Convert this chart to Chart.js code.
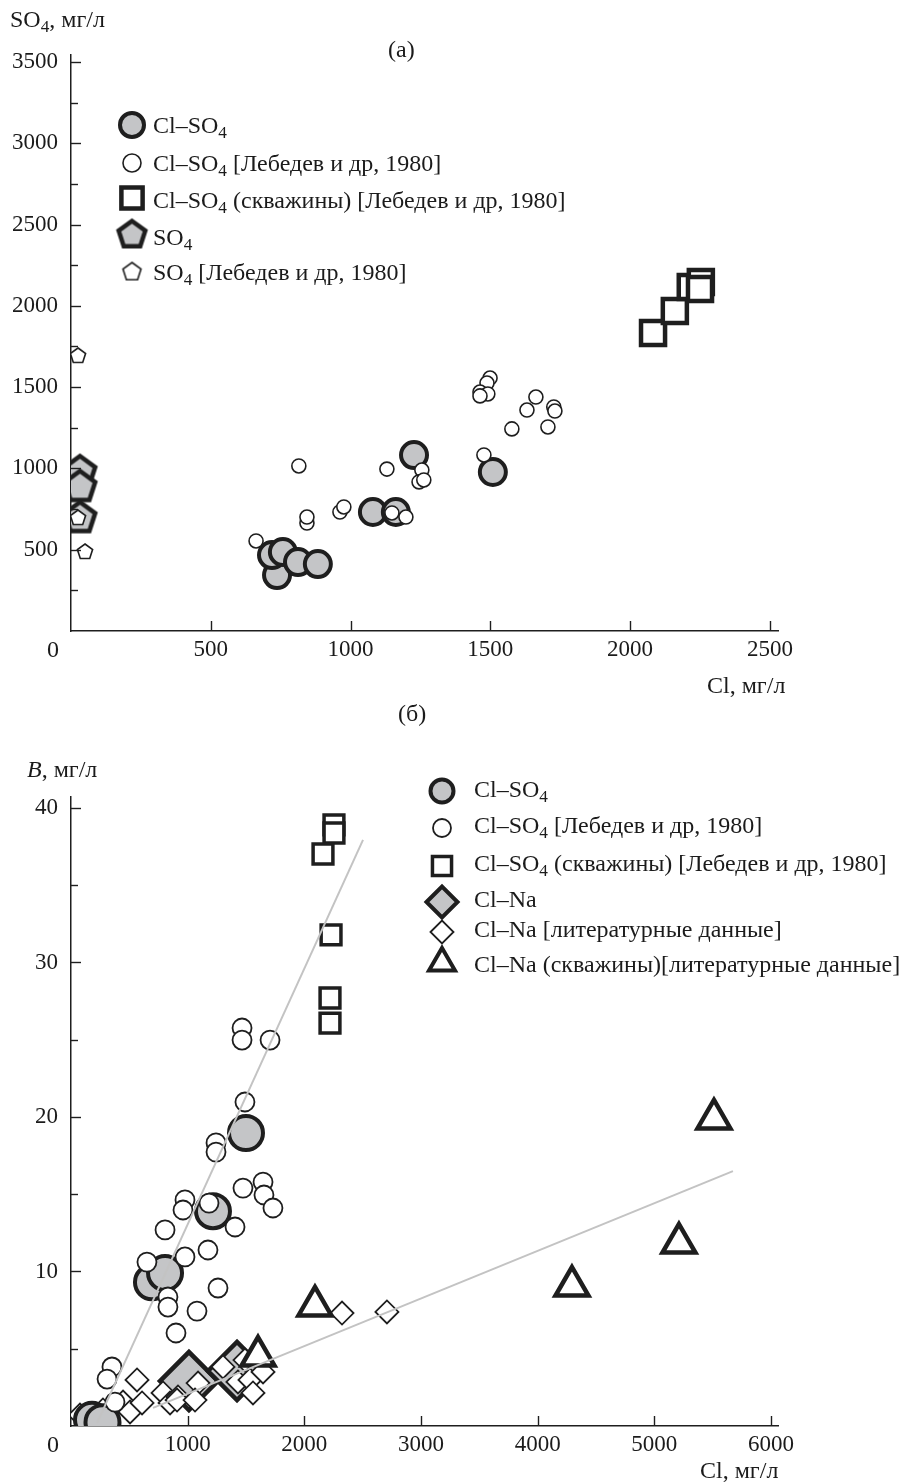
<!DOCTYPE html>
<html lang="ru">
<head>
<meta charset="utf-8">
<title>SO4 и B в зависимости от Cl</title>
<script src="https://cdn.jsdelivr.net/npm/chart.js@4.4.1/dist/chart.umd.min.js"></script>
<style>
html,body{margin:0;padding:0;background:#fff;}
body{position:relative;width:902px;height:1482px;overflow:hidden;font-family:"Liberation Serif","Times New Roman",serif;color:#1b1b1b;}
canvas{position:absolute;left:0;}
#ca{top:0;}
#cb{top:700px;}
.t{position:absolute;font-size:24px;line-height:24px;white-space:nowrap;}
.t sub{font-size:0.72em;line-height:0;vertical-align:-0.28em;}
</style>
</head>
<body>
<canvas id="ca" width="902" height="700"></canvas>
<canvas id="cb" width="902" height="782"></canvas>
<div id="labels"></div>
<script>
// ---------- Panel (а): SO4 vs Cl ----------
const A_clso4_x = [737, 719, 758, 812, 883, 1080, 1162, 1227, 1509];
const A_clso4_y = [344, 467, 486, 424, 412, 732, 732, 1082, 978];

const A_leb_x = [662, 815, 844, 844, 962, 976, 1130, 1148, 1198, 1255, 1245, 1262, 1499, 1488, 1463, 1491, 1463, 1663, 1631, 1727, 1731, 1577, 1706, 1477];
const A_leb_y = [554, 1015, 664, 701, 732, 763, 996, 726, 701, 990, 917, 929, 1556, 1525, 1470, 1458, 1446, 1439, 1359, 1378, 1353, 1243, 1255, 1083];

const A_well_x = [2082, 2160, 2217, 2253, 2250];
const A_well_y = [1833, 1968, 2116, 2147, 2104];

const A_so4_x = [32, 32, 32];
const A_so4_y = [978, 886, 695];

const A_so4leb_x = [25, 25, 50];
const A_so4leb_y = [1692, 695, 486];

const A_xTickValues = [500, 1000, 1500, 2000, 2500];
const A_yTickValues = [250, 500, 750, 1000, 1250, 1500, 1750, 2000, 2250, 2500, 2750, 3000, 3250, 3500];
const A_yTickLabels = [500, 1000, 1500, 2000, 2500, 3000, 3500];

// ---------- Panel (б): B vs Cl ----------
const B_clso4_x = [1500, 1217, 694, 806, 180, 270];
const B_clso4_y = [18.96, 13.9, 9.3, 9.9, 0.4, 0.25];

const B_leb_x = [1466, 1466, 1706, 1491, 1243, 1243, 1474, 1646, 1654, 1731, 977, 960, 1183, 1406, 806, 977, 1174, 651, 1260, 831, 831, 1080, 900, 351, 309, 377];
const B_leb_y = [25.76, 24.98, 24.98, 20.97, 18.32, 17.73, 15.40, 15.79, 14.95, 14.11, 14.63, 13.98, 14.43, 12.88, 12.69, 10.94, 11.39, 10.61, 8.93, 8.35, 7.70, 7.44, 6.02, 3.82, 3.04, 1.55];

const B_well_x = [2254, 2254, 2160, 2229, 2220, 2220];
const B_well_y = [38.90, 38.38, 37.02, 31.78, 27.70, 26.08];

const B_clna_x = [1011, 1423];
const B_clna_y = [2.91, 3.56];

const B_clnaLit_x = [2708, 2323, 77, 274, 446, 506, 566, 609, 789, 849, 917, 909, 1089, 1063, 1303, 1431, 1491, 1534, 1646, 1560];
const B_clnaLit_y = [7.38, 7.31, 0.71, 1.04, 1.55, 0.91, 2.98, 1.49, 2.14, 1.49, 1.88, 1.68, 2.78, 1.68, 3.82, 2.85, 4.27, 2.98, 3.50, 2.14];

const B_clnaWell_x = [5511, 5211, 4294, 2091, 1603];
const B_clnaWell_y = [19.87, 11.84, 9.06, 7.77, 4.53];

const B_trend1_x = [223, 2503];
const B_trend1_y = [0.19, 37.93];
const B_trend2_x = [703, 5674];
const B_trend2_y = [1.17, 16.50];

const B_xTickValues = [1000, 2000, 3000, 4000, 5000, 6000];
const B_yTickValues = [5, 10, 15, 20, 25, 30, 35, 40];
const B_yTickLabels = [10, 20, 30, 40];

// ---------- helpers ----------
const GREY = '#c4c5c7', DARK = '#1e1e1e', WHITE = '#ffffff', LINE = '#c3c3c3';
const pts = (xs, ys) => xs.map((x, i) => ({x: x, y: ys[i]}));

function pentagon(r, lw, fill, stroke) {
  const s = Math.ceil(2 * r + 2 * lw + 6);
  const c = document.createElement('canvas');
  c.width = s; c.height = s;
  const g = c.getContext('2d');
  g.beginPath();
  for (let i = 0; i < 5; i++) {
    const a = -Math.PI / 2 + i * 2 * Math.PI / 5;
    g.lineTo(s / 2 + r * Math.cos(a), s / 2 + r * Math.sin(a));
  }
  g.closePath();
  g.fillStyle = fill; g.fill();
  g.lineWidth = lw; g.strokeStyle = stroke; g.lineJoin = 'miter'; g.stroke();
  return c;
}

function drawMarker(ctx, m) {
  ctx.save();
  if (m.img) { ctx.drawImage(m.img, m.x - m.img.width / 2, m.y - m.img.height / 2); ctx.restore(); return; }
  ctx.fillStyle = m.fill; ctx.strokeStyle = DARK; ctx.lineWidth = m.lw;
  const x = m.x, y = m.y, r = m.r;
  ctx.beginPath();
  if (m.style === 'circle') ctx.arc(x, y, r, 0, Math.PI * 2);
  else if (m.style === 'rect') { const s = r * Math.SQRT1_2; ctx.rect(x - s, y - s, 2 * s, 2 * s); }
  else if (m.style === 'rectRot') { ctx.moveTo(x - r, y); ctx.lineTo(x, y - r); ctx.lineTo(x + r, y); ctx.lineTo(x, y + r); ctx.closePath(); }
  else if (m.style === 'triangle') { ctx.moveTo(x, y - r); ctx.lineTo(x + 0.866 * r, y + 0.5 * r); ctx.lineTo(x - 0.866 * r, y + 0.5 * r); ctx.closePath(); }
  ctx.fill(); ctx.stroke();
  ctx.restore();
}

const insideTicks = {
  id: 'insideTicks',
  afterDraw(chart, args, o) {
    const ctx = chart.ctx, a = chart.chartArea;
    ctx.save();
    ctx.strokeStyle = DARK; ctx.lineWidth = 1.4;
    const xs = chart.scales.x, ys = chart.scales.y;
    xs.ticks.forEach(t => {
      const p = Math.round(xs.getPixelForValue(t.value)) + 0.5;
      ctx.beginPath(); ctx.moveTo(p, a.bottom); ctx.lineTo(p, a.bottom - 10); ctx.stroke();
    });
    ys.ticks.forEach(t => {
      const p = Math.round(ys.getPixelForValue(t.value)) + 0.5;
      const len = o.yMajor.includes(t.value) ? 10 : 7;
      ctx.beginPath(); ctx.moveTo(a.left, p); ctx.lineTo(a.left + len, p); ctx.stroke();
    });
    ctx.restore();
  }
};

const legendMarks = {
  id: 'legendMarks',
  afterDraw(chart, args, o) {
    (o.items || []).forEach(m => drawMarker(chart.ctx, m));
  }
};

const tickFont = {family: '"Liberation Serif", "Times New Roman", serif', size: 23};

function axes(xmax, ymax, xTicks, yTicks, yLabels, yW, xH) {
  return {
    x: {
      type: 'linear', min: 0, max: xmax, z: 1,
      grid: {display: false, drawTicks: false, tickLength: 0},
      border: {display: true, color: DARK, width: 1.5},
      afterBuildTicks: s => { s.ticks = xTicks.map(v => ({value: v})); },
      afterFit: s => { s.height = xH; },
      ticks: {font: tickFont, color: '#1b1b1b', padding: 5, autoSkip: false, maxRotation: 0, includeBounds: false,
        callback: v => String(v)}
    },
    y: {
      type: 'linear', min: 0, max: ymax, z: 1,
      grid: {display: false, drawTicks: false, tickLength: 0},
      border: {display: true, color: DARK, width: 1.5},
      afterBuildTicks: s => { s.ticks = yTicks.map(v => ({value: v})); },
      afterFit: s => { s.width = yW; },
      ticks: {font: tickFont, color: '#1b1b1b', padding: 13, autoSkip: false, includeBounds: false,
        callback: v => yLabels.includes(v) ? String(v) : ''}
    }
  };
}

Chart.defaults.font.family = tickFont.family;

// ---------- Chart (а) ----------
const pentBig = pentagon(16, 4.5, GREY, DARK);
const pentSmall = pentagon(8, 1.6, WHITE, DARK);
const pentBigL = pentagon(14, 4.5, GREY, DARK);
const pentSmallL = pentagon(9.5, 1.6, WHITE, DARK);

new Chart(document.getElementById('ca'), {
  type: 'scatter',
  data: {
    datasets: [
      {label: 'Cl–SO4 (скважины) [Лебедев и др, 1980]', data: pts(A_well_x, A_well_y), pointStyle: 'rect', pointRadius: 17, pointBorderWidth: 4.5, backgroundColor: WHITE, borderColor: DARK, order: 0, clip: 0},
      {label: 'SO4 [Лебедев и др, 1980]', data: pts(A_so4leb_x, A_so4leb_y), pointStyle: pentSmall, pointRadius: 8, order: 1, clip: 0},
      {label: 'SO4', data: pts(A_so4_x, A_so4_y), pointStyle: pentBig, pointRadius: 16, order: 2, clip: 0},
      {label: 'Cl–SO4 [Лебедев и др, 1980]', data: pts(A_leb_x, A_leb_y), pointStyle: 'circle', pointRadius: 7, pointBorderWidth: 1.6, backgroundColor: WHITE, borderColor: DARK, order: 3, clip: 0},
      {label: 'Cl–SO4', data: pts(A_clso4_x, A_clso4_y), pointStyle: 'circle', pointRadius: 13, pointBorderWidth: 4, backgroundColor: GREY, borderColor: DARK, order: 4, clip: 0}
    ]
  },
  options: {
    responsive: false, animation: false, events: [], devicePixelRatio: 1,
    layout: {padding: {left: 0, right: 124, top: 55, bottom: 0}},
    plugins: {
      legend: {display: false}, tooltip: {enabled: false},
      insideTicks: {yMajor: A_yTickLabels},
      legendMarks: {items: [
        {style: 'circle', x: 132, y: 125, r: 12, lw: 4, fill: GREY},
        {style: 'circle', x: 132, y: 163, r: 9, lw: 1.6, fill: WHITE},
        {style: 'rect', x: 132, y: 198, r: 15, lw: 4.5, fill: WHITE},
        {img: pentBigL, x: 132, y: 235},
        {img: pentSmallL, x: 132, y: 272}
      ]}
    },
    scales: axes(2529, 3543, A_xTickValues, A_yTickValues, A_yTickLabels, 71, 69)
  },
  plugins: [insideTicks, legendMarks]
});

// ---------- Chart (б) ----------
new Chart(document.getElementById('cb'), {
  type: 'scatter',
  data: {
    datasets: [
      {label: 'trend1', data: pts(B_trend1_x, B_trend1_y), showLine: true, borderColor: LINE, borderWidth: 2, pointRadius: 0, order: 0, clip: 0},
      {label: 'trend2', data: pts(B_trend2_x, B_trend2_y), showLine: true, borderColor: LINE, borderWidth: 2, pointRadius: 0, order: 0, clip: 0},
      {label: 'Cl–Na (скважины)[литературные данные]', data: pts(B_clnaWell_x, B_clnaWell_y), pointStyle: 'triangle', pointRadius: 19, pointBorderWidth: 4.5, backgroundColor: WHITE, borderColor: DARK, order: 1, clip: 0},
      {label: 'Cl–SO4 (скважины) [Лебедев и др, 1980]', data: pts(B_well_x, B_well_y), pointStyle: 'rect', pointRadius: 14, pointBorderWidth: 3.5, backgroundColor: WHITE, borderColor: DARK, order: 2, clip: 0},
      {label: 'Cl–SO4 [Лебедев и др, 1980]', data: pts(B_leb_x, B_leb_y), pointStyle: 'circle', pointRadius: 9.5, pointBorderWidth: 1.8, backgroundColor: WHITE, borderColor: DARK, order: 3, clip: 0},
      {label: 'Cl–SO4', data: pts(B_clso4_x, B_clso4_y), pointStyle: 'circle', pointRadius: 17, pointBorderWidth: 4, backgroundColor: GREY, borderColor: DARK, order: 4, clip: 0},
      {label: 'Cl–Na [литературные данные]', data: pts(B_clnaLit_x, B_clnaLit_y), pointStyle: 'rectRot', pointRadius: 11.5, pointBorderWidth: 1.8, backgroundColor: WHITE, borderColor: DARK, order: 5, clip: 0},
      {label: 'Cl–Na', data: pts(B_clna_x, B_clna_y), pointStyle: 'rectRot', pointRadius: 29, pointBorderWidth: 4.5, backgroundColor: GREY, borderColor: DARK, order: 6, clip: 0}
    ]
  },
  options: {
    responsive: false, animation: false, events: [], devicePixelRatio: 1,
    layout: {padding: {left: 0, right: 124, top: 97, bottom: 0}},
    plugins: {
      legend: {display: false}, tooltip: {enabled: false},
      insideTicks: {yMajor: B_yTickLabels},
      legendMarks: {items: [
        {style: 'circle', x: 442, y: 91, r: 11.5, lw: 4, fill: GREY},
        {style: 'circle', x: 442, y: 128, r: 9, lw: 1.8, fill: WHITE},
        {style: 'rect', x: 442, y: 166, r: 13.5, lw: 3.5, fill: WHITE},
        {style: 'rectRot', x: 442, y: 202, r: 15.5, lw: 4, fill: GREY},
        {style: 'rectRot', x: 442, y: 232, r: 11.5, lw: 1.8, fill: WHITE},
        {style: 'triangle', x: 442, y: 263, r: 15, lw: 4, fill: WHITE}
      ]}
    },
    scales: axes(6060, 40.71, B_xTickValues, B_yTickValues, B_yTickLabels, 71, 56)
  },
  plugins: [insideTicks, legendMarks]
});

// ---------- text ----------
const box = document.getElementById('labels');
function T(html, left, baseline) {
  const d = document.createElement('div');
  d.className = 't';
  d.innerHTML = html;
  d.style.left = left + 'px';
  d.style.top = (baseline - 20.1) + 'px';
  box.appendChild(d);
}
T('SO<sub>4</sub>, мг/л', 10, 27);
T('(а)', 388, 57);
T('Cl, мг/л', 707, 693);
T('0', 47, 657);
T('Cl–SO<sub>4</sub>', 153, 133);
T('Cl–SO<sub>4</sub> [Лебедев и др, 1980]', 153, 171);
T('Cl–SO<sub>4</sub> (скважины) [Лебедев и др, 1980]', 153, 208);
T('SO<sub>4</sub>', 153, 245);
T('SO<sub>4</sub> [Лебедев и др, 1980]', 153, 280);

T('(б)', 398, 721);
T('<i>B</i>, мг/л', 27, 777);
T('Cl, мг/л', 700, 1478);
T('0', 47, 1452);
T('Cl–SO<sub>4</sub>', 474, 797);
T('Cl–SO<sub>4</sub> [Лебедев и др, 1980]', 474, 833);
T('Cl–SO<sub>4</sub> (скважины) [Лебедев и др, 1980]', 474, 871);
T('Cl–Na', 474, 907);
T('Cl–Na [литературные данные]', 474, 937);
T('Cl–Na (скважины)[литературные данные]', 474, 972);
</script>
</body>
</html>
